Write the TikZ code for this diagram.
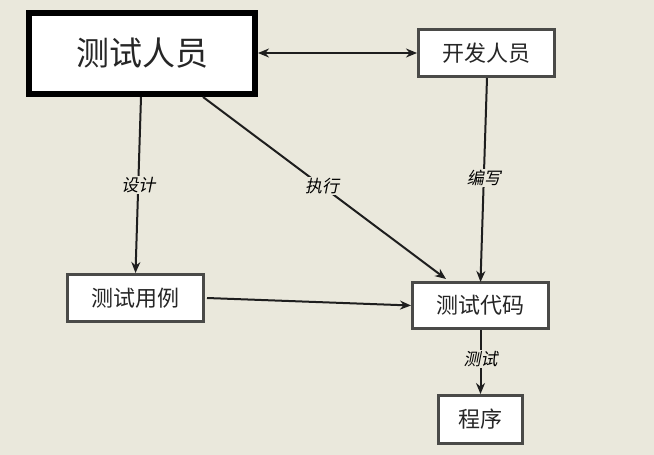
\documentclass[tikz,border=0pt]{standalone}
\usepackage{fontspec}
\newfontfamily\cjk{Noto Sans CJK SC}
\newfontfamily\cjkit[FakeSlant=0.2]{Noto Sans CJK SC}
\usetikzlibrary{arrows.meta}
\definecolor{bg}{HTML}{EAE8DC}
\definecolor{edge}{HTML}{1E1E1E}
\definecolor{boxline}{HTML}{4A4A48}
\begin{document}
\begin{tikzpicture}[x=1pt,y=-1pt,
  box/.style={draw=boxline,line width=3pt,fill=white,inner sep=0pt,font=\cjk\fontsize{22}{22}\selectfont,text=black!85},
  bigbox/.style={draw=black,line width=6pt,fill=white,inner sep=0pt,font=\cjk\fontsize{33}{33}\selectfont,text=black!85},
  conn/.style={draw=edge,line width=2pt,-{Stealth[length=11pt,width=9pt]}},
  lbl/.style={fill=bg,inner sep=1pt,font=\cjkit\fontsize{17}{17}\selectfont,text=black}]
\fill[bg] (0,0) rectangle (654,455);
\useasboundingbox (0,0) rectangle (654,455);
\node[bigbox,minimum width=226pt,minimum height=81pt] (tester) at (142,53) {测试人员};
\node[box,minimum width=136pt,minimum height=47pt] (dev) at (486.5,53) {开发人员};
\node[box,minimum width=136pt,minimum height=47pt] (case) at (135.5,298) {测试用例};
\node[box,minimum width=136pt,minimum height=46pt] (code) at (480.5,305.5) {测试代码};
\node[box,minimum width=84pt,minimum height=48pt] (prog) at (480.5,419.5) {程序};
\draw[conn,{Stealth[length=11pt,width=9pt]}-{Stealth[length=11pt,width=9pt]}] (tester.east) -- (dev.west);
\draw[conn] (141,97) -- node[lbl] {设计} (case.north);
\draw[conn] (203,97) -- node[lbl,pos=0.49] {执行} (446,279);
\draw[conn] (dev.south) ++(0.5,0) -- node[lbl,pos=0.49] {编写} (480.5,282);
\draw[conn] (case.east) ++(2,0) -- (code.west);
\draw[conn] (code.south) -- node[lbl,pos=0.45] {测试} (prog.north);
\end{tikzpicture}
\end{document}
